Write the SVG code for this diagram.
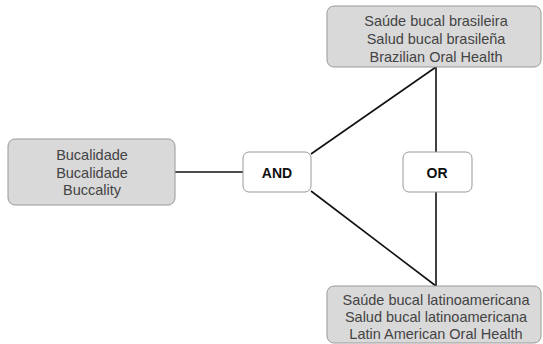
<svg xmlns="http://www.w3.org/2000/svg" width="543" height="344" viewBox="0 0 543 344">
<style>
.term{fill:#d9d9d9;stroke:#999;stroke-width:1}
.op{fill:#ffffff;stroke:#999;stroke-width:1}
.t{font-family:"Liberation Sans",Arial,sans-serif;font-size:14.5px;fill:#444;text-anchor:middle}
.b{font-family:"Liberation Sans",Arial,sans-serif;font-size:14px;font-weight:bold;fill:#111;text-anchor:middle}
.c{stroke:#111;stroke-width:1.6;fill:none}
</style>
<rect width="543" height="344" fill="#fff"/>
<g id="connectors">
<line class="c" x1="175" y1="172" x2="243" y2="172"/>
<line class="c" x1="311" y1="154" x2="436" y2="67"/>
<line class="c" x1="311" y1="191" x2="436" y2="286"/>
<line class="c" x1="436" y1="67" x2="436" y2="152"/>
<line class="c" x1="436" y1="192" x2="436" y2="286"/>
</g>
<g id="node-left">
<rect class="term" x="8" y="139" width="167" height="66" rx="7"/>
<text class="t" x="92" y="160">Bucalidade</text>
<text class="t" x="92" y="177.5">Bucalidade</text>
<text class="t" x="92" y="195">Buccality</text>
</g>
<g id="node-and">
<rect class="op" x="243" y="152" width="68" height="40" rx="6"/>
<text class="b" x="277" y="177.5">AND</text>
</g>
<g id="node-or">
<rect class="op" x="403" y="152" width="69" height="40" rx="6"/>
<text class="b" x="437" y="177.5">OR</text>
</g>
<g id="node-top">
<rect class="term" x="327" y="6" width="214" height="61" rx="7"/>
<text class="t" x="436" y="26">Saúde bucal brasileira</text>
<text class="t" x="436" y="44">Salud bucal brasileña</text>
<text class="t" x="436" y="62">Brazilian Oral Health</text>
</g>
<g id="node-bottom">
<rect class="term" x="327" y="286" width="214" height="57" rx="7"/>
<text class="t" x="436" y="305">Saúde bucal latinoamericana</text>
<text class="t" x="436" y="322">Salud bucal latinoamericana</text>
<text class="t" x="436" y="339">Latin American Oral Health</text>
</g>
</svg>
